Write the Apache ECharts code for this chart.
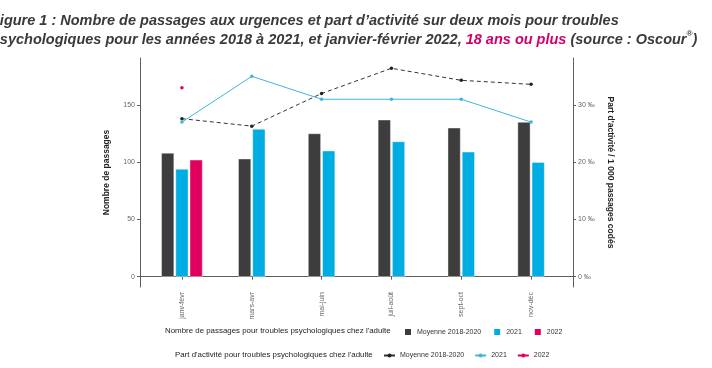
<!DOCTYPE html>
<html><head><meta charset="utf-8">
<script src="https://cdn.jsdelivr.net/npm/echarts@6/dist/echarts.min.js"></script>
<style>html,body{margin:0;padding:0;background:#fff}#c{width:712px;height:368px}</style>
</head><body><div id="c"></div>
<script>
const categories = ['janv-févr','mars-avr','mai-juin','juil-août','sept-oct','nov-déc'];
const passMoy  = [108, 103, 125, 137, 130, 135];
const pass2021 = [94, 129, 110, 118, 109, 100];
const pass2022 = [102, null, null, null, null, null];
const partMoy  = [27.6, 26.3, 32.0, 36.4, 34.3, 33.6];
const part2021 = [27.0, 35.0, 31.0, 31.0, 31.0, 27.0];
const part2022 = [33.0, null, null, null, null, null];
const leftTicks = [0, 50, 100, 150];
const rightTicks = [0, 10, 20, 30];

const C_MOY = '#3d3d3d', C_21 = '#00ade2', C_22 = '#e0005e', C_L21 = '#3cb6da';
const FONT = '"Liberation Sans", Arial, sans-serif';
const AX = '#5e5e5e';

const has3 = i => pass2022[i] != null;
const two = arr => arr.map((v, i) => has3(i) ? null : v);
const three = arr => arr.map((v, i) => has3(i) ? v : null);

const LMIN = -9, LMAX = 191, RMIN = LMIN / 5, RMAX = LMAX / 5;

const barCommon = {type: 'bar', barWidth: 12.7, barGap: '12%', yAxisIndex: 2, z: 2,
  itemStyle: {borderColor: '#ffffff', borderWidth: 0.4}};

const TS = 14.5;
const chart = echarts.init(document.getElementById('c'), null, {renderer: 'canvas'});
chart.setOption({
  animation: false,
  textStyle: {fontFamily: FONT},
  title: [
    {left: -9, top: 11, padding: 0,
     text: '{b|Figure 1 : Nombre de passages aux urgences et part d\u2019activité sur deux mois pour troubles}\n{b|psychologiques pour les années 2018 à 2021, et janvier-février 2022, }{m|18 ans ou plus}{b| (source : Oscour}{s|®}{b|)}',
     textStyle: {rich: {
       b: {fontSize: TS, fontWeight: 'bold', fontStyle: 'italic', color: '#3a3a3a', lineHeight: 19, fontFamily: FONT},
       m: {fontSize: TS, fontWeight: 'bold', fontStyle: 'italic', color: '#d4006a', lineHeight: 19, fontFamily: FONT},
       s: {fontSize: 8, fontWeight: 'bold', fontStyle: 'italic', color: '#3a3a3a', lineHeight: 19, verticalAlign: 'top', padding: [0,0,6,0], fontFamily: FONT}
     }}},
    {left: 165, top: 327, padding: 0, text: 'Nombre de passages pour troubles psychologiques chez l\'adulte',
     textStyle: {fontSize: 7.9, fontWeight: 'normal', color: '#222', fontFamily: FONT}},
    {left: 175, top: 351, padding: 0, text: 'Part d\'activité pour troubles psychologiques chez l\'adulte',
     textStyle: {fontSize: 7.9, fontWeight: 'normal', color: '#222', fontFamily: FONT}}
  ],
  legend: [
    {left: 403, top: 327, padding: 0, itemWidth: 8, itemHeight: 8, itemGap: 11,
     data: [{name: 'Moyenne 2018-2020', icon: 'rect'}, {name: '2021', icon: 'rect'}, {name: '2022', icon: 'rect'}],
     textStyle: {fontSize: 7, color: '#333'}},
    {left: 383, top: 352, padding: 0, itemWidth: 11, itemHeight: 5, itemGap: 10,
     data: ['part:Moyenne 2018-2020', 'part:2021', 'part:2022'],
     formatter: n => n.replace('part:', ''),
     textStyle: {fontSize: 7, color: '#333'}}
  ],
  grid: [
    {left: 140, right: 139, top: 58, bottom: 81},
    {left: 147, right: 146, top: 58, bottom: 81}
  ],
  xAxis: [
    {gridIndex: 0, type: 'value', min: 0, max: 1,
     axisLine: {show: true, lineStyle: {color: AX, width: 1}}, axisTick: {show: false},
     axisLabel: {show: false}, splitLine: {show: false}},
    {gridIndex: 1, type: 'category', data: categories,
     axisLine: {show: false}, axisTick: {show: true, alignWithLabel: true, length: 3, lineStyle: {color: AX}},
     axisLabel: {rotate: 90, fontSize: 7, color: '#666', margin: 5}, splitLine: {show: false}},
    {gridIndex: 1, type: 'category', data: categories, show: false}
  ],
  yAxis: [
    {gridIndex: 0, type: 'value', position: 'left', min: LMIN, max: LMAX,
     name: 'Nombre de passages', nameLocation: 'middle', nameGap: 29,
     nameTextStyle: {fontSize: 8.5, fontWeight: 'bold', color: '#222'},
     axisLine: {show: true, lineStyle: {color: AX}},
     axisTick: {show: true, length: 3, customValues: leftTicks, lineStyle: {color: AX}},
     axisLabel: {customValues: leftTicks, fontSize: 7, color: '#666', margin: 5},
     splitLine: {show: false}},
    {gridIndex: 0, type: 'value', position: 'right', min: RMIN, max: RMAX,
     name: 'Part d\'activité / 1 000 passages codés', nameLocation: 'middle', nameGap: 30, nameRotate: -90,
     nameTextStyle: {fontSize: 8.5, fontWeight: 'bold', color: '#222'},
     axisLine: {show: true, lineStyle: {color: AX}},
     axisTick: {show: true, length: 3, customValues: rightTicks, lineStyle: {color: AX}},
     axisLabel: {customValues: rightTicks, fontSize: 7, color: '#666', margin: 5, formatter: '{value} ‰'},
     splitLine: {show: false}},
    {gridIndex: 1, type: 'value', min: LMIN, max: LMAX, show: false},
    {gridIndex: 1, type: 'value', min: RMIN, max: RMAX, show: false}
  ],
  series: [
    Object.assign({}, barCommon, {name: 'Moyenne 2018-2020', xAxisIndex: 1, data: two(passMoy), itemStyle: Object.assign({}, barCommon.itemStyle, {color: C_MOY})}),
    Object.assign({}, barCommon, {name: '2021', xAxisIndex: 1, data: two(pass2021), itemStyle: Object.assign({}, barCommon.itemStyle, {color: C_21})}),
    Object.assign({}, barCommon, {name: 'Moyenne 2018-2020', xAxisIndex: 2, data: three(passMoy), itemStyle: Object.assign({}, barCommon.itemStyle, {color: C_MOY})}),
    Object.assign({}, barCommon, {name: '2021', xAxisIndex: 2, data: three(pass2021), itemStyle: Object.assign({}, barCommon.itemStyle, {color: C_21})}),
    Object.assign({}, barCommon, {name: '2022', xAxisIndex: 2, data: three(pass2022), itemStyle: Object.assign({}, barCommon.itemStyle, {color: C_22})}),
    {type: 'line', name: 'part:Moyenne 2018-2020', xAxisIndex: 1, yAxisIndex: 3, data: partMoy, z: 5,
     symbol: 'circle', symbolSize: 3.5, color: '#222',
     lineStyle: {color: '#333', width: 1, type: [4, 3]}, itemStyle: {color: '#222'}},
    {type: 'line', name: 'part:2021', xAxisIndex: 1, yAxisIndex: 3, data: part2021, z: 5,
     symbol: 'circle', symbolSize: 3.5, color: C_L21,
     lineStyle: {color: C_L21, width: 1}, itemStyle: {color: C_L21}},
    {type: 'line', name: 'part:2022', xAxisIndex: 1, yAxisIndex: 3, data: part2022, z: 5,
     symbol: 'circle', symbolSize: 3.5, color: C_22,
     lineStyle: {color: C_22, width: 1}, itemStyle: {color: C_22}}
  ]
});
</script>
</body></html>
